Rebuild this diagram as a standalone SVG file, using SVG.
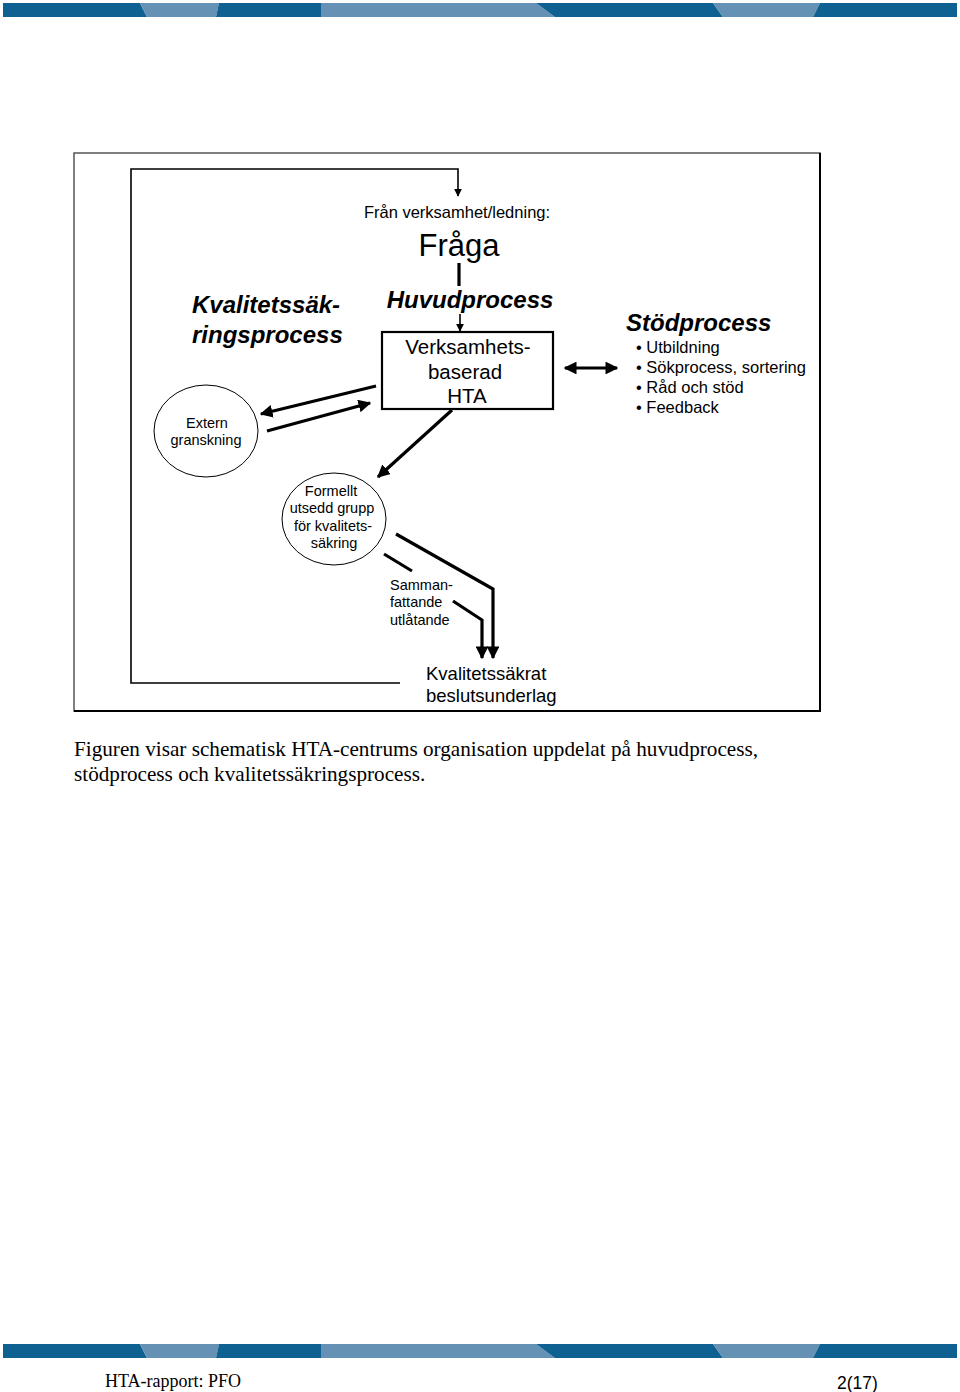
<svg xmlns="http://www.w3.org/2000/svg" width="960" height="1392" viewBox="0 0 960 1392">
<style>
.sans{font-family:"Liberation Sans",Arial,sans-serif;fill:#000}
.serif{font-family:"Liberation Serif","Times New Roman",serif;fill:#000}
.bi{font-weight:bold;font-style:italic;font-size:24px}
.small{font-size:14.5px}
.thin{stroke:#000;stroke-width:1.6;fill:none}
.thick{stroke:#000;stroke-width:3.2;fill:none}
.dark{fill:#0f6192}
.light{fill:#6591b5}
</style>
<defs>
<marker id="ah" viewBox="0 0 10 10" refX="9" refY="5" markerWidth="4" markerHeight="4" orient="auto-start-reverse" markerUnits="strokeWidth">
<path d="M0,0 L10,5 L0,10 z" fill="#000"/>
</marker>
<marker id="ahs" viewBox="0 0 10 10" refX="9" refY="5" markerWidth="5" markerHeight="5" orient="auto" markerUnits="strokeWidth">
<path d="M0,0 L10,5 L0,10 z" fill="#000"/>
</marker>
</defs>
<rect width="960" height="1392" fill="#fff"/>
<g id="top-band">
<polygon class="dark" points="3,3 140,3 147,17 3,17"/>
<polygon class="light" points="140,3 219,3 216,17 147,17"/>
<polygon class="dark" points="219,3 321,3 321,17 216,17"/>
<polygon class="light" points="321,3 536,3 555,17 321,17"/>
<polygon class="dark" points="536,3 713,3 723,17 555,17"/>
<polygon class="light" points="713,3 820,3 813,17 723,17"/>
<polygon class="dark" points="820,3 957,3 957,17 813,17"/>
</g>
<g id="bottom-band">
<polygon class="dark" points="3,1344 140,1344 147,1358 3,1358"/>
<polygon class="light" points="140,1344 219,1344 216,1358 147,1358"/>
<polygon class="dark" points="219,1344 321,1344 321,1358 216,1358"/>
<polygon class="light" points="321,1344 536,1344 555,1358 321,1358"/>
<polygon class="dark" points="536,1344 713,1344 723,1358 555,1358"/>
<polygon class="light" points="713,1344 820,1344 813,1358 723,1358"/>
<polygon class="dark" points="820,1344 957,1344 957,1358 813,1358"/>
</g>
<g id="frame">
<rect x="74" y="153" width="746" height="558" fill="none" stroke="#555" stroke-width="1.5"/>
<path d="M820,153 L820,711 L74,711" fill="none" stroke="#000" stroke-width="2"/>
</g>
<g id="connectors">
<path class="thin" d="M400,683 L131,683 L131,169 L458,169 L458,196" marker-end="url(#ahs)"/>
<line class="thick" x1="459" y1="263" x2="459" y2="286"/>
<line class="thin" x1="460" y1="314" x2="460" y2="331" stroke-width="2" marker-end="url(#ahs)"/>
<line class="thick" x1="376" y1="386" x2="261" y2="414" marker-end="url(#ah)"/>
<line class="thick" x1="267" y1="431" x2="370" y2="403" marker-end="url(#ah)"/>
<line class="thick" x1="452" y1="410" x2="378" y2="477" marker-end="url(#ah)"/>
<line class="thick" x1="565" y1="368" x2="617" y2="368" marker-start="url(#ah)" marker-end="url(#ah)"/>
<path class="thick" d="M396,534 L493,589 L493,658" marker-end="url(#ah)"/>
<line class="thick" x1="384" y1="554" x2="412" y2="571"/>
<path class="thick" d="M453,601 L482,620 L482,658" marker-end="url(#ah)"/>
</g>
<g id="fraga">
<text class="sans" x="457" y="218" font-size="16.5" text-anchor="middle">Från verksamhet/ledning:</text>
<text class="sans" x="459" y="256" font-size="31" text-anchor="middle">Fråga</text>
</g>
<g id="huvudprocess">
<text class="sans bi" x="470" y="308" text-anchor="middle">Huvudprocess</text>
<rect x="382" y="332" width="171" height="77" fill="#fff" stroke="#000" stroke-width="2.2"/>
<text class="sans" x="468" y="354" font-size="20.5" text-anchor="middle">Verksamhets-</text>
<text class="sans" x="465" y="379" font-size="20.5" text-anchor="middle">baserad</text>
<text class="sans" x="467" y="403" font-size="20.5" text-anchor="middle">HTA</text>
</g>
<g id="kvalitetssakring">
<text class="sans bi" x="192" y="313">Kvalitetssäk-</text>
<text class="sans bi" x="192" y="343">ringsprocess</text>
</g>
<g id="stodprocess">
<text class="sans bi" x="626" y="331">Stödprocess</text>
<text class="sans" font-size="16.5">
<tspan x="636" y="353">• Utbildning</tspan>
<tspan x="636" y="373">• Sökprocess, sortering</tspan>
<tspan x="636" y="393">• Råd och stöd</tspan>
<tspan x="636" y="413">• Feedback</tspan>
</text>
</g>
<g id="extern">
<ellipse cx="206" cy="431" rx="52" ry="46" fill="#fff" stroke="#000" stroke-width="1"/>
<text class="sans small" x="207" y="428" text-anchor="middle">Extern</text>
<text class="sans small" x="206" y="445" text-anchor="middle">granskning</text>
</g>
<g id="formellt">
<ellipse cx="334" cy="519" rx="52" ry="46" fill="#fff" stroke="#000" stroke-width="1"/>
<text class="sans small" text-anchor="middle">
<tspan x="333" y="496">Formellt</tspan>
<tspan x="334" y="513">utsedd grupp</tspan>
<tspan x="335" y="531">för kvalitets-</tspan>
<tspan x="334" y="548">säkring</tspan>
</text>
</g>
<g id="sammanfattande">
<text class="sans small">
<tspan x="390" y="590">Samman-</tspan>
<tspan x="390" y="607">fattande</tspan>
<tspan x="390" y="625">utlåtande</tspan>
</text>
</g>
<g id="beslutsunderlag">
<text class="sans" font-size="18.5">
<tspan x="426" y="680">Kvalitetssäkrat</tspan>
<tspan x="426" y="702">beslutsunderlag</tspan>
</text>
</g>
<g id="caption">
<text class="serif" font-size="21.2">
<tspan x="74" y="756">Figuren visar schematisk HTA-centrums organisation uppdelat på huvudprocess,</tspan>
<tspan x="74" y="781">stödprocess och kvalitetssäkringsprocess.</tspan>
</text>
</g>
<g id="footer">
<text class="serif" x="105" y="1387" font-size="18">HTA-rapport: PFO</text>
<text class="sans" x="837" y="1389" font-size="17.5">2(17)</text>
</g>
</svg>
